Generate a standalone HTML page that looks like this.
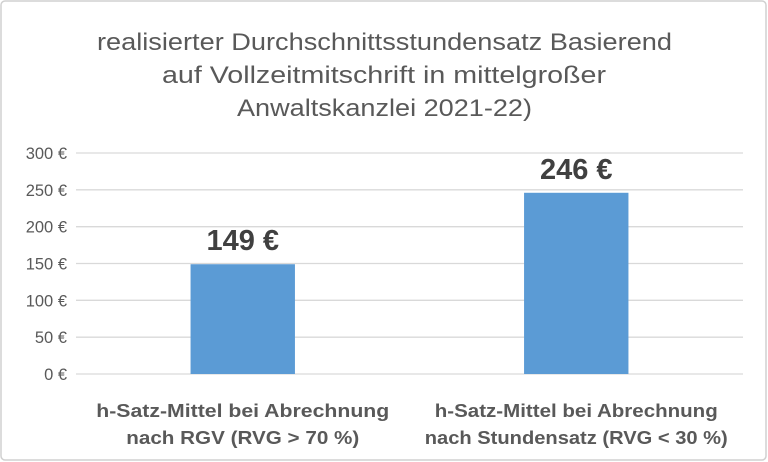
<!DOCTYPE html>
<html><head><meta charset="utf-8"><style>
html,body{margin:0;padding:0;background:#fff;}
svg{display:block;font-family:"Liberation Sans",sans-serif;}
</style></head><body>
<svg id="chart" width="768" height="462">
<rect x="1" y="1" width="765" height="459" rx="4" fill="#fff" stroke="#d0d0d0" stroke-width="1.5"/>
<g fill="#595959" font-size="24">
<text x="97" y="50" textLength="575" lengthAdjust="spacingAndGlyphs">realisierter Durchschnittsstundensatz  Basierend</text>
<text x="162" y="83" textLength="444" lengthAdjust="spacingAndGlyphs">auf Vollzeitmitschrift in mittelgroßer</text>
<text x="237" y="116" textLength="295" lengthAdjust="spacingAndGlyphs">Anwaltskanzlei 2021-22)</text>
</g>
<g id="grid"></g>
<g id="yticks"></g>
<g id="bars"></g>
<g id="xlabels"></g>
</svg>
<script>
const categories = [["h-Satz-Mittel bei Abrechnung","nach RGV  (RVG > 70 %)"],["h-Satz-Mittel bei Abrechnung","nach Stundensatz  (RVG < 30 %)"]];
const values = [149, 246];
const valueLabels = ["149 €", "246 €"];
const yTicks = [0, 50, 100, 150, 200, 250, 300];
const yTickLabels = ["0 €","50 €","100 €","150 €","200 €","250 €","300 €"];

const NS="http://www.w3.org/2000/svg";
const x0=76, x1=743, y0=374, yTop=153, yMax=300;
const y=v=>y0-(v/yMax)*(y0-yTop);
const band=(x1-x0)/categories.length;
const bw=band*0.313;
const catWidths=[[293,233],[283,303]];
function mk(t,a,p){const e=document.createElementNS(NS,t);for(const k in a)e.setAttribute(k,a[k]);p.appendChild(e);return e;}
const grid=document.getElementById('grid'),yt=document.getElementById('yticks'),bars=document.getElementById('bars'),xl=document.getElementById('xlabels');
yTicks.forEach((v,i)=>{
  const l=mk('line',{x1:x0,x2:x1,y1:y(v),y2:y(v),stroke:'#d9d9d9','stroke-width':1.3},grid);
  
  
  const t=mk('text',{x:67,y:y(v)+6,'text-anchor':'end','font-size':16.5,fill:'#595959'},yt);
  t.textContent=yTickLabels[i];
  
  
});
values.forEach((v,i)=>{
  const cx=x0+band*(i+0.5);
  const r=mk('rect',{x:cx-bw/2,y:y(v),width:bw,height:y0-y(v),fill:'#5b9bd5'},bars);
  
  
  const t=mk('text',{x:cx,y:y(v)-14,'text-anchor':'middle','font-size':29,'font-weight':'bold',fill:'#404040'},bars);
  t.textContent=valueLabels[i];
  
  
  categories[i].forEach((s,j)=>{
    const w=catWidths[i][j];
    const c=mk('text',{x:cx-w/2,y:417+j*27,'font-size':18,'font-weight':'bold',fill:'#595959',textLength:w,lengthAdjust:'spacingAndGlyphs'},xl);
    c.textContent=s;
    
    
  });
});
</script>
</body></html>
